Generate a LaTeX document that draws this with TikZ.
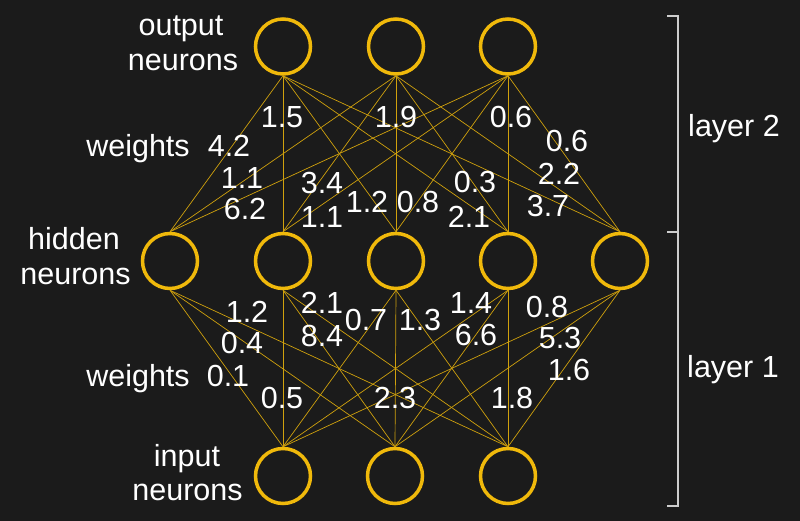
\documentclass[tikz,border=0pt]{standalone}
\usepackage{fontspec}
\setmainfont{Liberation Sans}
\definecolor{bg}{RGB}{27,27,27}
\definecolor{gold}{RGB}{240,185,11}
\definecolor{brk}{RGB}{205,205,205}
\begin{document}
\begin{tikzpicture}[x=1pt,y=-1pt,
  neuron/.style={circle,draw=gold,line width=3.5pt,minimum size=55pt,inner sep=0pt},
  wire/.style={draw=gold!85!bg,line width=0.7pt},
  lbl/.style={text=white,font=\fontsize{30.5}{35}\selectfont,anchor=base,inner sep=0pt},
  brack/.style={draw=brk,line width=1.5pt}]
\fill[bg] (0,0) rectangle (800,521);
\useasboundingbox (0,0) rectangle (800,521);
% neurons
\foreach \i/\x in {1/283,2/396,3/508} \node[neuron] (o\i) at (\x,46.5) {};
\foreach \i/\x in {1/170,2/283,3/396,4/508,5/620} \node[neuron] (h\i) at (\x,261) {};
\foreach \i/\x in {1/283,2/395,3/508} \node[neuron] (n\i) at (\x,476) {};
% connectors
\foreach \a in {1,2,3} \foreach \b in {1,...,5} \draw[wire] (o\a.south) -- (h\b.north);
\foreach \b in {1,...,5} \foreach \a in {1,2,3} \draw[wire] (h\b.south) -- (n\a.north);
% bracket
\coordinate (bt) at (667,16);
\coordinate (bm) at (667,232);
\coordinate (bb) at (667,506);
\draw[brack] (bt) -- ++(11,0) |- (bb);
\draw[brack] (bm) -- ++(11,0);
% side labels
\node[lbl] (tout1) at (181,36) {output};
\node[lbl] (tout2) at (183,71) {neurons};
\node[lbl] (thid1) at (74,250) {hidden};
\node[lbl] (thid2) at (75.5,284) {neurons};
\node[lbl] (tin1) at (187,466) {input};
\node[lbl] (tin2) at (187.5,500) {neurons};
\node[lbl] (tw2) at (138,157) {weights};
\node[lbl] (tw1) at (138,386) {weights};
\node[lbl] (tl2) at (734,137) {layer 2};
\node[lbl] (tl1) at (733,377) {layer 1};
% weights layer 2
\node[lbl] (a1) at (282,128) {1.5};
\node[lbl] (a2) at (396,128) {1.9};
\node[lbl] (a3) at (511,128) {0.6};
\node[lbl] (a4) at (229,157) {4.2};
\node[lbl] (a5) at (567,152) {0.6};
\node[lbl] (a6) at (242,189) {1.1};
\node[lbl] (a7) at (322,194) {3.4};
\node[lbl] (a8) at (475,193) {0.3};
\node[lbl] (a9) at (559,185) {2.2};
\node[lbl] (a10) at (245,220) {6.2};
\node[lbl] (a11) at (367,213) {1.2};
\node[lbl] (a12) at (418,213) {0.8};
\node[lbl] (a13) at (548,217) {3.7};
\node[lbl] (a14) at (322,228) {1.1};
\node[lbl] (a15) at (469,228) {2.1};
% weights layer 1
\node[lbl] (b1) at (247,322) {1.2};
\node[lbl] (b2) at (322,313) {2.1};
\node[lbl] (b3) at (366,330) {0.7};
\node[lbl] (b4) at (420,330) {1.3};
\node[lbl] (b5) at (471,313) {1.4};
\node[lbl] (b6) at (547,317) {0.8};
\node[lbl] (b7) at (242,353) {0.4};
\node[lbl] (b8) at (322,346) {8.4};
\node[lbl] (b9) at (476,345) {6.6};
\node[lbl] (b10) at (560,348) {5.3};
\node[lbl] (b11) at (228,386) {0.1};
\node[lbl] (b12) at (569,380) {1.6};
\node[lbl] (b13) at (282,408) {0.5};
\node[lbl] (b14) at (395,408) {2.3};
\node[lbl] (b15) at (512,408) {1.8};
\end{tikzpicture}
\end{document}
